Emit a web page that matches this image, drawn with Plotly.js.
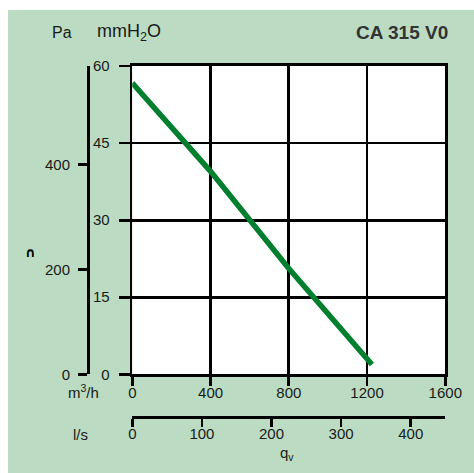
<!DOCTYPE html>
<html>
<head>
<meta charset="utf-8">
<script src="https://cdn.plot.ly/plotly-3.0.1.min.js"></script>
<style>
html,body{margin:0;padding:0;background:#ffffff;width:474px;height:473px;overflow:hidden;}
#chart{position:absolute;left:8px;top:10px;width:466px;height:463px;}
</style>
</head>
<body>
<div id="chart"></div>
<script>
// ---- data ----
const flowM3h = [0, 400, 800, 1225];          // qv, m3/h
const pressureMmH2O = [56.7, 39.5, 20.6, 1.9]; // mmH2O
const xTicksM3h = [0, 400, 800, 1200, 1600];
const yTicksMmH2O = [0, 15, 30, 45, 60];
const yTicksPa = [0, 200, 400];
const xTicksLs = [0, 100, 200, 300, 400];
const chartTitle = "CA 315 V0";

// ---- layout geometry ----
const W = 466, H = 463;
const M = {l: 80, r: 25, t: 56, b: 56};
const pw = W - M.l - M.r, ph = H - M.t - M.b;
const xDom = [(124.3 - M.l) / pw, (437.3 - M.l) / pw];
const yDom = [(H - M.b - 364.3) / ph, 1];
const PA_PER_MMH2O = 9.80665;
const M3H_PER_LS = 3.6;
const lsMax = (1600 / M3H_PER_LS) * (1 - xDom[0]) / (xDom[1] - xDom[0]);

// page pixel -> paper fraction
const fx = p => (p - 8 - M.l) / pw;
const fy = p => (H - M.b - (p - 10)) / ph;

const font = {family: "Liberation Sans, Arial, sans-serif", size: 15, color: "#1a1a1a"};
const LW = 2.7;

const trace = {
  x: flowM3h, y: pressureMmH2O, type: "scatter", mode: "lines",
  line: {color: "#00802f", width: 5.5}, hoverinfo: "skip", xaxis: "x", yaxis: "y"
};
// invisible traces to activate secondary axes
const tPa = {x: [0], y: [0], xaxis: "x", yaxis: "y2", mode: "markers", marker: {opacity: 0}, hoverinfo: "skip"};
const tLs = {x: [0], y: [0], xaxis: "x2", yaxis: "y", mode: "markers", marker: {opacity: 0}, hoverinfo: "skip"};

const layout = {
  width: W, height: H,
  margin: M,
  paper_bgcolor: "#bbdcc3",
  plot_bgcolor: "#ffffff",
  showlegend: false,
  font: font,
  xaxis: {
    domain: xDom, range: [0, 1600], tickvals: xTicksM3h, ticktext: xTicksM3h.map(String),
    showgrid: true, gridcolor: "#000", gridwidth: LW, zeroline: false,
    showline: true, linecolor: "#000", linewidth: LW, mirror: true,
    ticks: "outside", ticklen: 9, tickwidth: LW, tickcolor: "#000",
    ticklabelstandoff: -6,
    anchor: "y", tickfont: font, fixedrange: true
  },
  yaxis: {
    domain: yDom, range: [0, 60], tickvals: yTicksMmH2O, ticktext: yTicksMmH2O.map(String),
    showgrid: true, gridcolor: "#000", gridwidth: LW, zeroline: false,
    showline: true, linecolor: "#000", linewidth: LW, mirror: true,
    ticks: "outside", ticklen: 11, tickwidth: LW, tickcolor: "#000",
    ticklabelstandoff: 6,
    anchor: "x", tickfont: font, fixedrange: true
  },
  yaxis2: {
    domain: yDom, range: [0, 60 * PA_PER_MMH2O], tickvals: yTicksPa, ticktext: yTicksPa.map(String),
    overlaying: "y", anchor: "free", position: 0, side: "left",
    showgrid: false, zeroline: false,
    showline: true, linecolor: "#000", linewidth: LW,
    ticks: "outside", ticklen: 9, tickwidth: LW, tickcolor: "#000",
    ticklabelstandoff: 5,
    tickfont: font, fixedrange: true
  },
  xaxis2: {
    domain: [xDom[0], 1], range: [0, lsMax], tickvals: xTicksLs, ticktext: xTicksLs.map(String),
    overlaying: "x", anchor: "free", position: 0, side: "bottom",
    showgrid: false, zeroline: false,
    showline: true, linecolor: "#000", linewidth: LW,
    ticks: "outside", ticklen: 8, tickwidth: LW, tickcolor: "#000",
    ticklabelstandoff: -6,
    tickfont: font, fixedrange: true
  },
  annotations: [
    {text: "Pa", x: fx(62), y: fy(32), xanchor: "center", yanchor: "middle", font: {...font, size: 16}},
    {text: "mmH<sub>2</sub>O", x: fx(95), y: fy(33), xanchor: "left", yanchor: "middle", font: {...font, size: 18}},
    {text: "<b>" + chartTitle + "</b>", x: fx(450), y: fy(33), xanchor: "right", yanchor: "middle", font: {...font, size: 19, color: "#333333"}},
    {text: "m<sup>3</sup>/h", x: fx(101), y: fy(391), xanchor: "right", yanchor: "middle", font: font},
    {text: "l/s", x: fx(80.5), y: fy(434), xanchor: "center", yanchor: "middle", font: font},
    {text: "q<sub>v</sub>", x: fx(278), y: fy(453), xanchor: "left", yanchor: "middle", font: font},
    {text: "<b>∩</b>", x: fx(30.5), y: fy(253), xanchor: "center", yanchor: "middle", font: {family: "DejaVu Sans, sans-serif", size: 13, color: "#000"}}
  ].map(a => Object.assign({xref: "paper", yref: "paper", showarrow: false}, a))
};

Plotly.newPlot("chart", [trace, tPa, tLs], layout, {displayModeBar: false, staticPlot: true});
</script>
</body>
</html>
